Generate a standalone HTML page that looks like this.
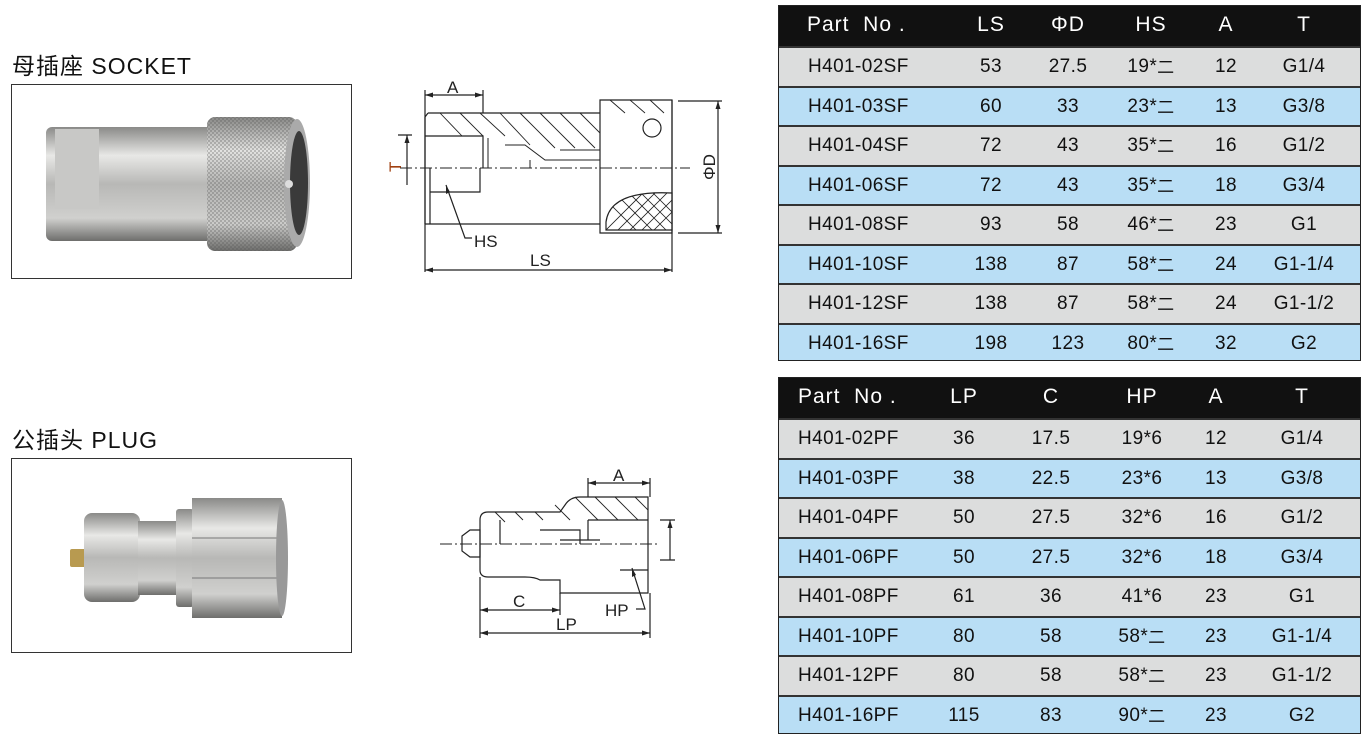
<!DOCTYPE html>
<html><head><meta charset="utf-8">
<style>
body{margin:0;width:1364px;height:738px;background:#fff;position:relative;overflow:hidden;font-family:"Liberation Sans","Noto Sans CJK SC",sans-serif;}
.title{position:absolute;left:12px;font-size:23px;line-height:26px;color:#111;letter-spacing:1px;}
.box{position:absolute;left:11px;width:339px;border:1px solid #333;background:#fff;}
.tbl{position:absolute;left:778px;width:583px;border:1.5px solid #222;box-sizing:border-box;}
.row{position:relative;height:39.5px;border-top:2px solid #333;box-sizing:border-box;font-size:19px;color:#111;letter-spacing:0.4px;}
.row span{position:absolute;top:9px;display:block;line-height:20px;height:20px;white-space:nowrap;transform:translateX(-50%);}
.row span.p{transform:none;}
.row span i{font-style:normal;font-family:"Noto Sans CJK SC",sans-serif;font-size:17px;line-height:20px;vertical-align:top;position:relative;top:-1px;}
.hd{background:#111;color:#fff;border-top:none;height:40px;font-size:21px;letter-spacing:1px;}
.hd span{top:8px;line-height:22px;height:22px;}
.g{background:#dcdddd}.b{background:#b9def5}
svg text{font-family:"Liberation Sans",sans-serif;}
</style></head><body>
<div class="title" style="top:53px">母插座 SOCKET</div>
<div class="box" style="top:84px;height:193px">
<svg width="339" height="193" viewBox="11 84 339 193">
<defs>
<linearGradient id="m" x1="0" y1="0" x2="0" y2="1">
<stop offset="0" stop-color="#8a8a88"/><stop offset="0.25" stop-color="#e8e8e6"/><stop offset="0.5" stop-color="#b8b8b6"/><stop offset="0.8" stop-color="#d0d0ce"/><stop offset="1" stop-color="#6e6e6c"/></linearGradient>
<pattern id="k" width="4" height="4" patternUnits="userSpaceOnUse"><rect width="4" height="4" fill="none"/><path d="M0 0L4 4M4 0L0 4" stroke="#555" stroke-width="0.6" opacity="0.5"/></pattern>
</defs>
<rect x="45" y="126" width="175" height="114" rx="6" fill="url(#m)"/>
<rect x="54" y="128" width="44" height="80" fill="#c8c8c6"/>
<rect x="206" y="116" width="90" height="134" rx="8" fill="url(#m)"/>
<rect x="206" y="116" width="90" height="134" rx="8" fill="url(#k)"/>
<ellipse cx="296" cy="182" rx="13" ry="64" fill="#aaa"/>
<ellipse cx="298" cy="182" rx="9" ry="52" fill="#3a3a3a"/>
<circle cx="288" cy="183" r="4" fill="#ddd"/>
</svg></div>

<div class="title" style="top:427px">公插头 PLUG</div>
<div class="box" style="top:458px;height:193px">
<svg width="339" height="193" viewBox="11 458 339 193">
<rect x="69" y="548" width="16" height="18" rx="2" fill="#b89a50"/>
<rect x="83" y="512" width="56" height="89" rx="8" fill="url(#m)"/>
<rect x="137" y="520" width="40" height="74" fill="url(#m)"/>
<rect x="175" y="508" width="18" height="98" rx="3" fill="url(#m)"/>
<rect x="191" y="497" width="90" height="120" fill="url(#m)"/>
<line x1="191" y1="537" x2="281" y2="537" stroke="#777"/><line x1="191" y1="577" x2="281" y2="577" stroke="#777"/>
<ellipse cx="281" cy="557" rx="6" ry="58" fill="#999"/>
</svg></div>

<svg style="position:absolute;left:0;top:0" width="770" height="738" fill="none" stroke="#222" stroke-width="1.2">
<path d="M428 113H600M425 117L428 113M425 117V224M425 224H600M425 136H483V168M600 100H672V233H600Z"/>
<path d="M430 168V224M480 168V192H430" />
<path d="M488 138V168M600 105V168M505 145H525L545 160H600M530 160V168M560 150H600" stroke-width="1"/>
<g stroke-width="0.9"><path d="M440 113L462 136M460 113L483 136M480 113L505 136M500 113L530 145M520 113L555 148M540 113L575 148M560 113L595 148M580 113L600 133M610 100L625 113M630 100L645 113M650 100L664 113"/></g>
<path d="M606 222Q610 190 672 193V230H606Z" fill="#fff"/>
<clipPath id="c1"><path d="M606 222Q610 190 672 193V230H606Z"/></clipPath>
<g stroke-width="0.8" clip-path="url(#c1)"><path d="M606 200L640 234M616 194L655 233M628 192L668 232M640 192L672 224M652 192L672 212M606 230L644 192M616 232L656 192M628 232L668 192M640 232L672 200M652 232L672 212"/></g>
<circle cx="652" cy="128" r="9"/>
<path d="M400 168H690" stroke-dasharray="12 3 2 3" stroke-width="1"/>
<path d="M425 90V272M483 90V113M672 100V272M425 95H483M425 270H672M678 101H722M678 233H722M718 101V233M398 135H412M407 135V185"/>
<path d="M446 185L465 238H472"/>
<g fill="#222" stroke="none"><path d="M425 95l8-2.5v5zM483 95l-8-2.5v5zM425 270l8-2.5v5zM672 270l-8-2.5v5zM718 101l-2.5 8h5zM718 233l-2.5-8h5zM407 135l-2.5 8h5zM446 185l0 9 4-2z"/></g>
<g fill="#222" stroke="none" font-size="17"><text x="447" y="93">A</text><text x="530" y="266">LS</text><text x="474" y="247">HS</text><text x="0" y="0" transform="translate(401 172) rotate(-90)" fill="#a04010">T</text><text x="0" y="0" transform="translate(715 180) rotate(-90)">ΦD</text></g>

<path d="M462 536L470 530H480V557H470L462 551Z"/>
<path d="M480 520Q480 512 488 512H560L565 505Q570 497 580 497H648V593H560V580H540Q535 577 525 577H488Q480 577 480 570Z"/>
<path d="M588 520H648M588 520V540M560 540H600M500 520V544M540 530H580V544M620 570H648"/>
<g stroke-width="0.9"><path d="M495 512L505 522M515 512L523 520M535 512L543 520M555 505L570 520M575 497L598 520M595 497L618 520M615 497L638 520M635 497L648 510"/></g>
<path d="M440 544H660" stroke-dasharray="12 3 2 3" stroke-width="1"/>
<path d="M480 577V638M560 593V615M650 593V638M588 478V497M650 478V497M588 483H650M480 610H560M480 633H650M660 520H675M660 560H675M670 520V560"/>
<path d="M632 568L645 609H636"/>
<g fill="#222" stroke="none"><path d="M588 483l8-2.5v5zM650 483l-8-2.5v5zM480 610l8-2.5v5zM560 610l-8-2.5v5zM480 633l8-2.5v5zM650 633l-8-2.5v5zM670 520l-2.5 8h5zM632 568l0 9 4-2z"/></g>
<g fill="#222" stroke="none" font-size="17"><text x="613" y="481">A</text><text x="513" y="607">C</text><text x="556" y="630">LP</text><text x="605" y="616">HP</text></g>
</svg>

<div class="tbl" style="top:5px">
<div class="row hd"><span class="p" style="left:28px">Part&nbsp; No .</span><span style="left:212px">LS</span><span style="left:289px">ΦD</span><span style="left:372px">HS</span><span style="left:447px">A</span><span style="left:525px">T</span></div>
<div class="row g"><span class="p" style="left:29px">H401-02SF</span><span style="left:212px">53</span><span style="left:289px">27.5</span><span style="left:372px">19*<i>二</i></span><span style="left:447px">12</span><span style="left:525px">G1/4</span></div>
<div class="row b"><span class="p" style="left:29px">H401-03SF</span><span style="left:212px">60</span><span style="left:289px">33</span><span style="left:372px">23*<i>二</i></span><span style="left:447px">13</span><span style="left:525px">G3/8</span></div>
<div class="row g"><span class="p" style="left:29px">H401-04SF</span><span style="left:212px">72</span><span style="left:289px">43</span><span style="left:372px">35*<i>二</i></span><span style="left:447px">16</span><span style="left:525px">G1/2</span></div>
<div class="row b"><span class="p" style="left:29px">H401-06SF</span><span style="left:212px">72</span><span style="left:289px">43</span><span style="left:372px">35*<i>二</i></span><span style="left:447px">18</span><span style="left:525px">G3/4</span></div>
<div class="row g"><span class="p" style="left:29px">H401-08SF</span><span style="left:212px">93</span><span style="left:289px">58</span><span style="left:372px">46*<i>二</i></span><span style="left:447px">23</span><span style="left:525px">G1</span></div>
<div class="row b"><span class="p" style="left:29px">H401-10SF</span><span style="left:212px">138</span><span style="left:289px">87</span><span style="left:372px">58*<i>二</i></span><span style="left:447px">24</span><span style="left:525px">G1-1/4</span></div>
<div class="row g"><span class="p" style="left:29px">H401-12SF</span><span style="left:212px">138</span><span style="left:289px">87</span><span style="left:372px">58*<i>二</i></span><span style="left:447px">24</span><span style="left:525px">G1-1/2</span></div>
<div class="row b" style="height:37px"><span class="p" style="left:29px">H401-16SF</span><span style="left:212px">198</span><span style="left:289px">123</span><span style="left:372px">80*<i>二</i></span><span style="left:447px">32</span><span style="left:525px">G2</span></div>
</div>

<div class="tbl" style="top:377px">
<div class="row hd"><span class="p" style="left:19px">Part&nbsp; No .</span><span style="left:185px">LP</span><span style="left:272px">C</span><span style="left:363px">HP</span><span style="left:437px">A</span><span style="left:523px">T</span></div>
<div class="row g"><span class="p" style="left:19px">H401-02PF</span><span style="left:185px">36</span><span style="left:272px">17.5</span><span style="left:363px">19*6</span><span style="left:437px">12</span><span style="left:523px">G1/4</span></div>
<div class="row b"><span class="p" style="left:19px">H401-03PF</span><span style="left:185px">38</span><span style="left:272px">22.5</span><span style="left:363px">23*6</span><span style="left:437px">13</span><span style="left:523px">G3/8</span></div>
<div class="row g"><span class="p" style="left:19px">H401-04PF</span><span style="left:185px">50</span><span style="left:272px">27.5</span><span style="left:363px">32*6</span><span style="left:437px">16</span><span style="left:523px">G1/2</span></div>
<div class="row b"><span class="p" style="left:19px">H401-06PF</span><span style="left:185px">50</span><span style="left:272px">27.5</span><span style="left:363px">32*6</span><span style="left:437px">18</span><span style="left:523px">G3/4</span></div>
<div class="row g"><span class="p" style="left:19px">H401-08PF</span><span style="left:185px">61</span><span style="left:272px">36</span><span style="left:363px">41*6</span><span style="left:437px">23</span><span style="left:523px">G1</span></div>
<div class="row b"><span class="p" style="left:19px">H401-10PF</span><span style="left:185px">80</span><span style="left:272px">58</span><span style="left:363px">58*<i>二</i></span><span style="left:437px">23</span><span style="left:523px">G1-1/4</span></div>
<div class="row g"><span class="p" style="left:19px">H401-12PF</span><span style="left:185px">80</span><span style="left:272px">58</span><span style="left:363px">58*<i>二</i></span><span style="left:437px">23</span><span style="left:523px">G1-1/2</span></div>
<div class="row b" style="height:38px"><span class="p" style="left:19px">H401-16PF</span><span style="left:185px">115</span><span style="left:272px">83</span><span style="left:363px">90*<i>二</i></span><span style="left:437px">23</span><span style="left:523px">G2</span></div>
</div>
</body></html>
